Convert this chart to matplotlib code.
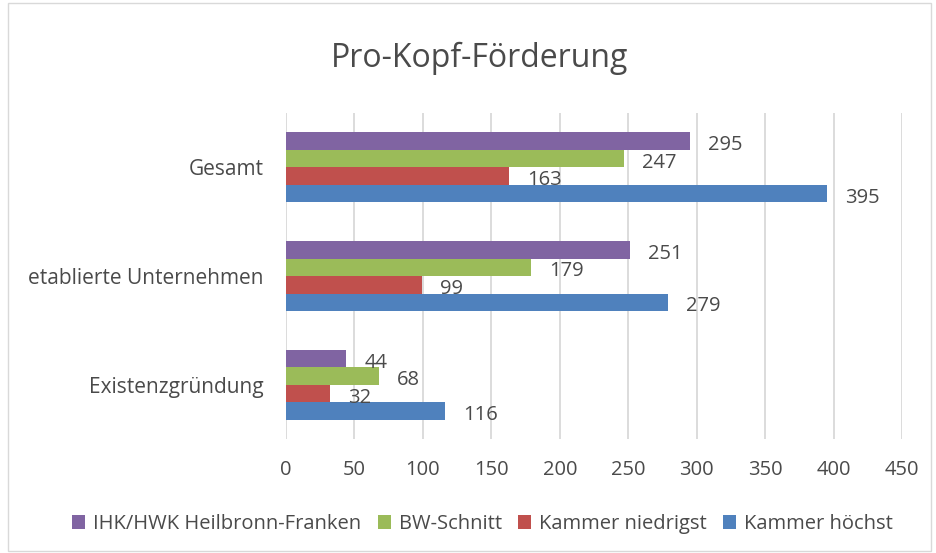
import numpy as np
import matplotlib.pyplot as plt
from matplotlib.patches import Rectangle

plt.rcParams['font.family'] = ['Open Sans', 'DejaVu Sans']

categories = ['Gesamt', 'etablierte Unternehmen', 'Existenzgründung']
series_names = ['IHK/HWK Heilbronn-Franken', 'BW-Schnitt', 'Kammer niedrigst', 'Kammer höchst']
ihk = [295, 251, 44]
bw = [247, 179, 68]
niedrigst = [163, 99, 32]
hoechst = [395, 279, 116]
colors = ['#8064A2', '#9BBB59', '#C0504D', '#4F81BD']
text_col = '#4a4a4a'

fig = plt.figure(figsize=(9.37, 5.53), dpi=100)
fig.patches.append(Rectangle((0.009, 0.004), 0.985, 0.99, transform=fig.transFigure,
                             fill=False, edgecolor='#D9D9D9', linewidth=1))
ax = fig.add_axes([0.3052, 0.2061, 0.6575, 0.5896])

y = np.arange(len(categories))
h = 0.161
all_series = [ihk, bw, niedrigst, hoechst]
for i, (vals, name, col) in enumerate(zip(all_series, series_names, colors)):
    pos = y + (i - 1.5) * h
    ax.barh(pos, vals, height=h, color=col, label=name, zorder=3)
    for p, v in zip(pos, vals):
        ax.annotate(str(v), (v, p), xytext=(13, -3), textcoords='offset points',
                    ha='left', va='center', fontsize=14.5, color=text_col, zorder=4)

ax.set_xlim(0, 450)
ax.set_xticks(range(0, 451, 50))
ax.set_ylim(len(categories) - 0.5, -0.5)
ax.set_yticks(y)
ax.set_yticklabels(categories)
ax.grid(axis='x', color='#D9D9D9', linewidth=1.3, zorder=0)
for s in ax.spines.values():
    s.set_visible(False)
ax.tick_params(axis='x', length=0, pad=15, labelsize=14.5, labelcolor=text_col)
ax.tick_params(axis='y', length=0, pad=16, labelsize=15, labelcolor=text_col)

fig.suptitle('Pro-Kopf-Förderung', x=0.512, y=0.925, fontsize=23, color=text_col)

handles, labels = ax.get_legend_handles_labels()
fig.legend(handles, labels, loc='center', bbox_to_anchor=(0.515, 0.052), ncol=4,
           frameon=False, fontsize=14.5, labelcolor=text_col, handlelength=0.65,
           handleheight=0.65, handletextpad=0.4, columnspacing=0.8)

plt.savefig('out.png', dpi=100)
